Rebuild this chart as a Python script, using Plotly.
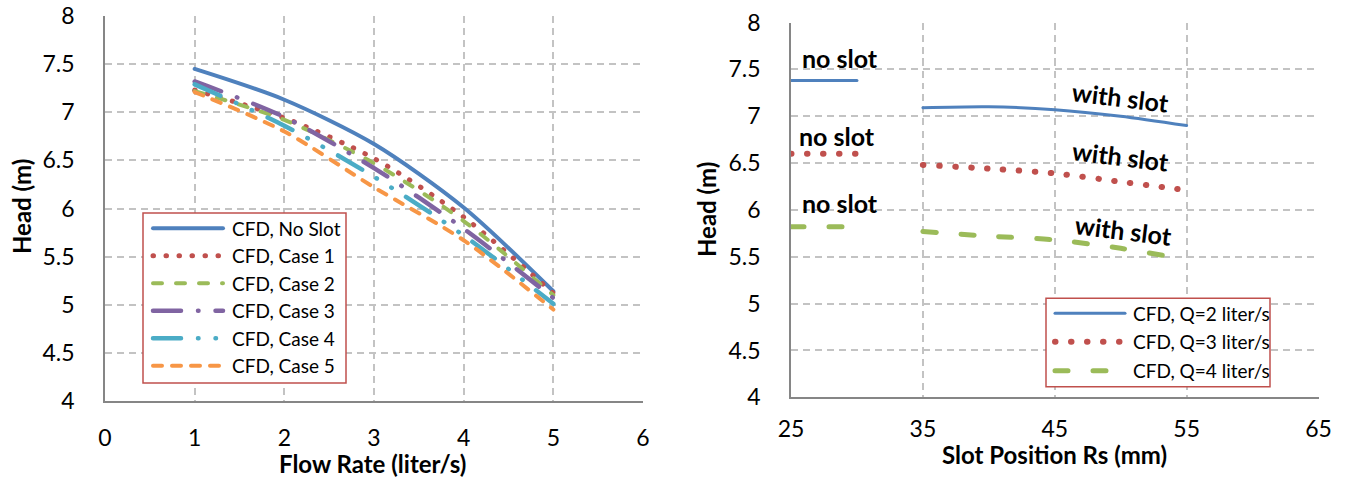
import plotly.graph_objects as go

# ---- Pump head vs. flow rate (left panel) ----
flow_rate = [1, 2, 3, 4, 5]
head_no_slot = [7.45, 7.13, 6.67, 6.01, 5.14]
head_case1 = [7.23, 6.94, 6.52, 5.91, 5.12]
head_case2 = [7.22, 6.92, 6.47, 5.87, 5.10]
head_case3 = [7.32, 6.95, 6.42, 5.79, 5.07]
head_case4 = [7.29, 6.86, 6.33, 5.72, 5.01]
head_case5 = [7.21, 6.80, 6.22, 5.67, 4.95]
left_names = ["CFD, No Slot", "CFD, Case 1", "CFD, Case 2",
              "CFD, Case 3", "CFD, Case 4", "CFD, Case 5"]

# ---- Pump head vs. slot position (right panel) ----
pos_no_slot = [25, 30]
pos_slot = [35, 40, 45, 50, 55]
q2_no_slot = [7.38, 7.38]
q2_slot = [7.09, 7.10, 7.07, 7.00, 6.90]
q3_no_slot = [6.60, 6.60]
q3_slot = [6.48, 6.44, 6.39, 6.30, 6.21]
q4_no_slot = [5.82, 5.82]
q4_slot = [5.77, 5.72, 5.68, 5.59, 5.47]
right_names = ["CFD, Q=2 liter/s", "CFD, Q=3 liter/s", "CFD, Q=4 liter/s"]

left_ticks_y = [4, 4.5, 5, 5.5, 6, 6.5, 7, 7.5, 8]
left_ticks_x = [0, 1, 2, 3, 4, 5, 6]
right_ticks_x = [25, 35, 45, 55, 65]

W, H = 1351, 477
FONT = "Lato"


def px(x):
    return x / W


def py(y):
    return 1 - y / H


left_styles = [
    dict(color="#4f81bd", width=4, dash="solid"),
    dict(color="#c0504d", width=5, dash="0.5px,12.5px"),
    dict(color="#9bbb59", width=4, dash="9px,14px"),
    dict(color="#8064a2", width=4.5, dash="28px,17px,0.5px,17px"),
    dict(color="#4bacc6", width=4.5, dash="28px,17px,0.5px,17px,0.5px,17px"),
    dict(color="#f79646", width=4, dash="9px,10px"),
]
right_styles = [
    dict(color="#4f81bd", width=3, dash="solid"),
    dict(color="#c0504d", width=6, dash="0.5px,15.5px"),
    dict(color="#9bbb59", width=5, dash="13px,25px"),
]

fig = go.Figure()

left_series = [head_no_slot, head_case1, head_case2, head_case3, head_case4, head_case5]
for name, ys, st in zip(left_names, left_series, left_styles):
    fig.add_trace(go.Scatter(
        x=flow_rate, y=ys, name=name, mode="lines",
        line=dict(shape="spline", smoothing=0.8, **st),
        xaxis="x", yaxis="y", showlegend=False))

right_series = [(q2_no_slot, q2_slot), (q3_no_slot, q3_slot), (q4_no_slot, q4_slot)]
for name, (y0, y1), st in zip(right_names, right_series, right_styles):
    fig.add_trace(go.Scatter(
        x=pos_no_slot + [None] + pos_slot, y=y0 + [None] + y1, name=name,
        mode="lines", connectgaps=False,
        line=dict(shape="spline", smoothing=0.8, **st),
        xaxis="x2", yaxis="y2", showlegend=False))

axis_common = dict(
    showline=True, linecolor="#868686", linewidth=1.5,
    showgrid=True, gridcolor="#c3c3c3", gridwidth=1.5, griddash="7px,5px",
    zeroline=False, ticks="",
    tickfont=dict(family=FONT, size=23, color="#000"),
)

fig.update_layout(
    width=W, height=H,
    margin=dict(l=0, r=0, t=0, b=0, autoexpand=False),
    paper_bgcolor="white", plot_bgcolor="white",
    showlegend=False,
    xaxis=dict(domain=[px(105), px(643)], range=[0, 6], tickvals=left_ticks_x,
               anchor="y", ticklabelstandoff=16, **axis_common),
    yaxis=dict(domain=[py(401), py(16)], range=[4, 8], tickvals=left_ticks_y,
               anchor="x", ticklabelstandoff=24, **axis_common),
    xaxis2=dict(domain=[px(791), px(1318.5)], range=[25, 65], tickvals=right_ticks_x,
                anchor="y2", ticklabelstandoff=10, **axis_common),
    yaxis2=dict(domain=[py(397.3), py(22.5)], range=[4, 8], tickvals=left_ticks_y,
                anchor="x2", ticklabelstandoff=24, **axis_common),
)


def note(x, y, text, font, xref="paper", yref="paper", xanchor="center", angle=0):
    fig.add_annotation(x=x, y=y, xref=xref, yref=yref, text=text, showarrow=False,
                       xanchor=xanchor, yanchor="middle", textangle=angle, font=font)


# axis titles
title_font = dict(family=FONT, size=24, color="#000")
note(px(373), py(463), "<b>Flow Rate (liter/s)</b>", title_font)
note(px(1054), py(454), "<b>Slot Position Rs (mm)</b>", title_font)
note(px(21), py(207), "<b>Head (m)</b>", title_font, angle=-90)
note(px(706), py(210), "<b>Head (m)</b>", title_font, angle=-90)

# slot labels on the right panel
label_font = dict(family=FONT, size=25, color="#000")
for (lx, ly) in [(28.7, 7.62), (28.5, 6.79), (28.7, 6.07)]:
    note(lx, ly, "<b>no slot</b>", label_font, xref="x2", yref="y2")
for (lx, ly) in [(50.0, 7.21), (50.0, 6.57), (50.2, 5.79)]:
    note(lx, ly, "<b>with slot</b>", label_font, xref="x2", yref="y2", angle=7)


def draw_legend(box, rows, sample_x, text_x, names, styles):
    x0, y0, x1, y1 = box
    fig.add_shape(type="rect", xref="paper", yref="paper",
                  x0=px(x0), x1=px(x1), y0=py(y1), y1=py(y0),
                  fillcolor="white", line=dict(color="#c0504d", width=1.5))
    for ry, name, st in zip(rows, names, styles):
        fig.add_shape(type="line", xref="paper", yref="paper",
                      x0=px(sample_x[0]), x1=px(sample_x[1]), y0=py(ry), y1=py(ry),
                      line=dict(color=st["color"], width=st["width"], dash=st["dash"]))
        note(px(text_x), py(ry), name, dict(family=FONT, size=19, color="#000"),
             xanchor="left")


draw_legend((143, 213, 346, 383), [228.3, 255.8, 283.3, 310.8, 338.3, 365.8],
            (153, 223), 230, left_names, left_styles)
draw_legend((1046, 298.3, 1270, 386.7), [313.3, 341.7, 370.7],
            (1055, 1125), 1131, right_names, right_styles)

round_caps = """
var gd = document.getElementById('{plot_id}');
function roundCaps() {
  gd.querySelectorAll('.scatterlayer .js-line, .shapelayer path').forEach(function (p) {
    p.style.strokeLinecap = 'round';
  });
}
roundCaps();
gd.on('plotly_afterplot', roundCaps);
"""

fig.write_html("out.html", post_script=round_caps)
